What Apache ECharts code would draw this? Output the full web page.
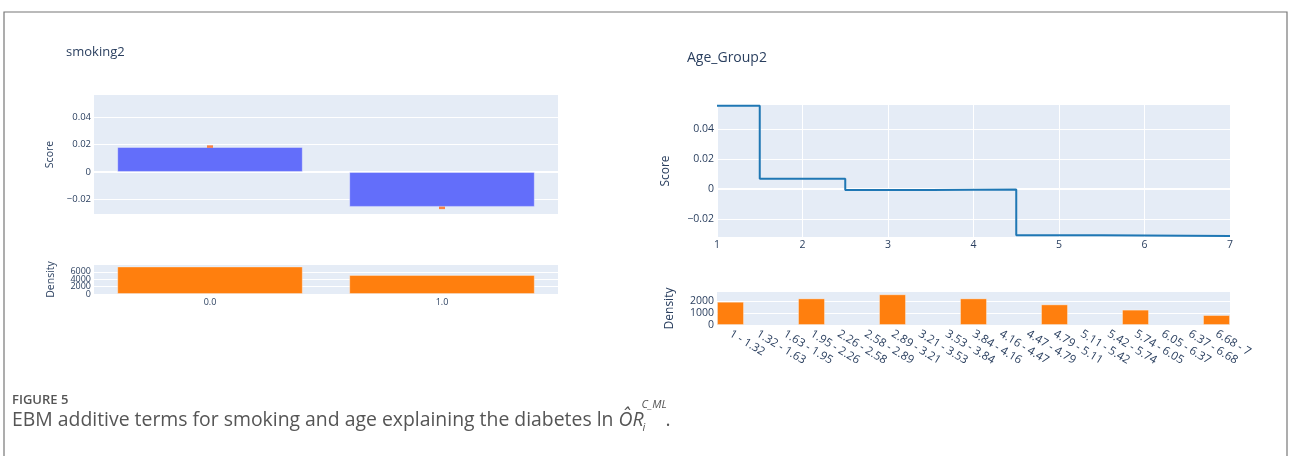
<!DOCTYPE html>
<html>
<head>
<meta charset="utf-8">
<script src="https://cdn.jsdelivr.net/npm/echarts@6/dist/echarts.min.js"></script>
<style>
html,body{margin:0;padding:0;background:#fff;}
#c{width:1290px;height:456px;}
</style>
</head>
<body>
<div id="c"></div>
<script>
// ---- data ----
const smokingCats = ['0.0', '1.0'];
const smokingScore = [0.0183, -0.0256];
const smokingErrMark = [0.0186, -0.0263];
const smokingDensity = [7450, 5150];
const scoreTicks = [-0.02, 0, 0.02, 0.04];
const smokingDensityTicksA = [0, 4000];
const smokingDensityTicksB = [2000, 6000];

const ageEdges = [1, 1.5, 2.5, 3.5, 4.5, 5.5, 7];
const ageScore = [0.0555, 0.0069, -0.0007, -0.0004, -0.0309, -0.0313, -0.0313];
const ageBins = ['1 - 1.32', '1.32 - 1.63', '1.63 - 1.95', '1.95 - 2.26', '2.26 - 2.58', '2.58 - 2.89',
  '2.89 - 3.21', '3.21 - 3.53', '3.53 - 3.84', '3.84 - 4.16', '4.16 - 4.47', '4.47 - 4.79',
  '4.79 - 5.11', '5.11 - 5.42', '5.42 - 5.74', '5.74 - 6.05', '6.05 - 6.37', '6.37 - 6.68', '6.68 - 7'];
const ageDensity = [1940, null, null, 2220, null, null, 2560, null, null, 2220, null, null,
  1720, null, null, 1280, null, null, 830];
const ageDensityTicks = [0, 1000, 2000];

const captionHead = 'FIGURE 5';
const captionText = 'EBM additive terms for smoking and age explaining the diabetes ln ';

// ---- styling ----
const TXT = '#2a3f5f';
const FONT = '"Open Sans", "Noto Sans", sans-serif';
const BG = '#E5ECF6';
const fmtScore = v => (v === 0 ? '0' : (v < 0 ? '\u2212' + Math.abs(v).toFixed(2) : v.toFixed(2)));

// fit caption font to the reference width
const ctx = document.createElement('canvas').getContext('2d');
ctx.font = '17px "Open Sans"';
const w17 = ctx.measureText(captionText).width;
const capSize = Math.round(17 * 608 / w17 * 10) / 10;
ctx.font = capSize + 'px "Open Sans"';
const capW = ctx.measureText(captionText).width;
ctx.font = 'italic ' + capSize + 'px "Open Sans"';
const orW = ctx.measureText('\u00D4R').width;
const mathX = 12 + capW;

const chart = echarts.init(document.getElementById('c'), null, {renderer: 'canvas'});

function yAxisCfg(gridIndex, min, max, ticks, fmt, fontSize, name, nameGap, nameSize) {
  return {
    type: 'value', gridIndex, min, max, position: 'left',
    axisTick: {show: false, customValues: ticks},
    axisLabel: {customValues: ticks, formatter: fmt, color: TXT, fontSize, fontFamily: FONT, margin: 3,
      showMinLabel: true, showMaxLabel: true, hideOverlap: false},
    axisLine: {show: false},
    splitLine: {show: true, lineStyle: {color: '#ffffff', width: 1}},
    name, nameLocation: 'middle', nameGap,
    nameTextStyle: {color: TXT, fontSize: nameSize, fontFamily: FONT}
  };
}

const densityAxisB = yAxisCfg(1, 0, 7850, smokingDensityTicksB, v => String(v), 9, '', 37, 10.5);
densityAxisB.offset = 0;

const option = {
  animation: false,
  backgroundColor: '#ffffff',
  grid: [
    {left: 94, top: 95, width: 464, height: 119, show: true, backgroundColor: BG, borderWidth: 0},
    {left: 94, top: 265, width: 464, height: 29, show: true, backgroundColor: BG, borderWidth: 0},
    {left: 717, top: 105, width: 513, height: 132, show: true, backgroundColor: BG, borderWidth: 0},
    {left: 717, top: 292, width: 513, height: 33, show: true, backgroundColor: BG, borderWidth: 0}
  ],
  xAxis: [
    {type: 'category', gridIndex: 0, data: smokingCats,
      axisLine: {show: true, onZero: true, lineStyle: {color: '#ffffff', width: 2}},
      axisTick: {show: false}, axisLabel: {show: false}, splitLine: {show: false}},
    {type: 'category', gridIndex: 1, data: smokingCats,
      axisLine: {show: false}, axisTick: {show: false}, splitLine: {show: false},
      axisLabel: {color: TXT, fontSize: 9, fontFamily: FONT, margin: 4}},
    {type: 'value', gridIndex: 2, min: 1, max: 7, interval: 1,
      axisLine: {show: false}, axisTick: {show: false},
      splitLine: {show: true, lineStyle: {color: '#ffffff', width: 1}},
      axisLabel: {color: TXT, fontSize: 10.5, fontFamily: FONT, margin: 3}},
    {type: 'category', gridIndex: 3, data: ageBins,
      axisLine: {show: false}, axisTick: {show: false}, splitLine: {show: false},
      axisLabel: {color: TXT, fontSize: 11.5, fontFamily: FONT, rotate: -31, interval: 0, margin: 8,
        hideOverlap: false}}
  ],
  yAxis: [
    yAxisCfg(0, -0.0308, 0.0564, scoreTicks, fmtScore, 9.5, 'Score', 38, 10.5),
    yAxisCfg(1, 0, 7850, smokingDensityTicksA, v => String(v), 9, 'Density', 37, 10.5),
    yAxisCfg(2, -0.032, 0.056, scoreTicks, fmtScore, 10.5, 'Score', 45, 12),
    yAxisCfg(3, 0, 2750, ageDensityTicks, v => String(v), 10.5, 'Density', 41, 12),
    densityAxisB
  ],
  series: [
    {type: 'bar', xAxisIndex: 0, yAxisIndex: 0, data: smokingScore, barWidth: '80%', z: 2,
      itemStyle: {color: '#636EFA', borderColor: 'rgba(255,255,255,0.35)', borderWidth: 1}},
    {type: 'scatter', xAxisIndex: 0, yAxisIndex: 0, data: smokingErrMark, symbol: 'rect',
      symbolSize: [6, 2.5], z: 4, itemStyle: {color: '#FF6A1A'}},
    {type: 'bar', xAxisIndex: 1, yAxisIndex: 1, data: smokingDensity, barWidth: '80%', z: 2,
      itemStyle: {color: '#FF7F0E', borderColor: 'rgba(255,255,255,0.35)', borderWidth: 1}},
    {type: 'line', xAxisIndex: 2, yAxisIndex: 2, data: [[ageEdges[0], 0], [ageEdges[ageEdges.length - 1], 0]],
      symbol: 'none', z: 1, silent: true, lineStyle: {color: '#ffffff', width: 2}},
    {type: 'line', xAxisIndex: 2, yAxisIndex: 2, step: 'end', symbol: 'none', z: 3,
      data: ageEdges.map((x, i) => [x, ageScore[i]]),
      lineStyle: {color: '#1f77b4', width: 2}},
    {type: 'bar', xAxisIndex: 3, yAxisIndex: 3, data: ageDensity, barWidth: '100%', z: 2,
      itemStyle: {color: '#FF7F0E', borderColor: 'rgba(255,255,255,0.35)', borderWidth: 1}}
  ],
  graphic: [
    {type: 'rect', shape: {x: 4, y: 12, width: 1283, height: 470}, silent: true,
      style: {fill: 'none', stroke: '#777', lineWidth: 1.2}},
    {type: 'text', left: 66, top: 46, silent: true,
      style: {text: 'smoking2', fill: TXT, font: '13px "Open Sans"'}},
    {type: 'text', left: 687, top: 51, silent: true,
      style: {text: 'Age_Group2', fill: TXT, font: '14px "Open Sans"'}},
    {type: 'text', left: 12, top: 394, silent: true,
      style: {text: captionHead, fill: '#555', font: '600 13px "Open Sans"'}},
    {type: 'text', left: 12, top: 411, silent: true,
      style: {text: captionText, fill: '#555', font: capSize + 'px "Open Sans"'}},
    {type: 'text', left: mathX, top: 411, silent: true,
      style: {text: '\u00D4R', fill: '#555', font: 'italic ' + capSize + 'px "Open Sans"'}},
    {type: 'text', left: mathX + orW - 1, top: 422, silent: true,
      style: {text: 'i', fill: '#555', font: 'italic 11px "Open Sans"'}},
    {type: 'text', left: mathX + orW - 2, top: 399, silent: true,
      style: {text: 'C_ML', fill: '#555', font: 'italic 11px "Open Sans"'}},
    {type: 'text', left: mathX + orW + 22, top: 411, silent: true,
      style: {text: '.', fill: '#555', font: capSize + 'px "Open Sans"'}}
  ]
};
chart.setOption(option);
</script>
</body>
</html>
